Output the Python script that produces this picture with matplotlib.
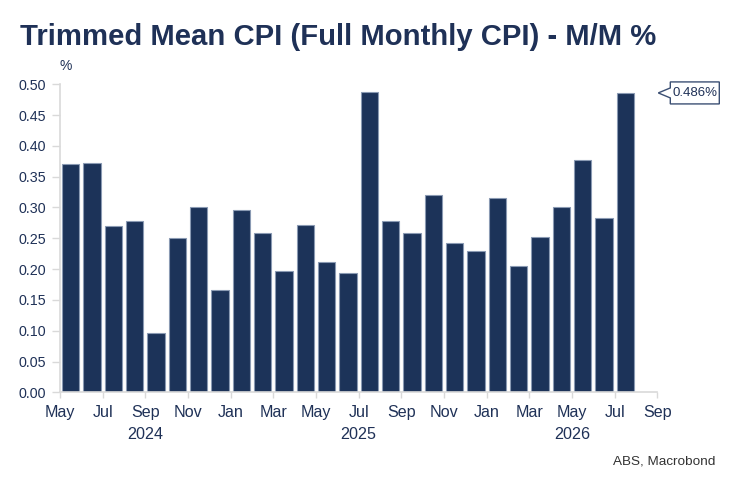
import numpy as np
import matplotlib
matplotlib.use("Agg")
import matplotlib.pyplot as plt
from matplotlib.patches import Polygon
from matplotlib.transforms import IdentityTransform, blended_transform_factory

NAVY = "#1c3359"
TEXT = "#1f3157"
GRID = "#d9d9d9"

# monthly trimmed mean CPI, m/m %, May 2024 .. Jul 2026
months = ["May 24", "Jun 24", "Jul 24", "Aug 24", "Sep 24", "Oct 24", "Nov 24",
          "Dec 24", "Jan 25", "Feb 25", "Mar 25", "Apr 25", "May 25", "Jun 25",
          "Jul 25", "Aug 25", "Sep 25", "Oct 25", "Nov 25", "Dec 25", "Jan 26",
          "Feb 26", "Mar 26", "Apr 26", "May 26", "Jun 26", "Jul 26"]
values = [0.370, 0.373, 0.270, 0.278, 0.096, 0.251, 0.301, 0.166, 0.296,
          0.258, 0.197, 0.271, 0.211, 0.194, 0.487, 0.278, 0.259, 0.321,
          0.242, 0.230, 0.315, 0.205, 0.252, 0.301, 0.377, 0.283, 0.486]
tick_labels = ["May", "Jul", "Sep", "Nov", "Jan", "Mar", "May", "Jul",
               "Sep", "Nov", "Jan", "Mar", "May", "Jul", "Sep"]
year_labels = ["2024", "2025", "2026"]
year_pos = [4, 14, 24]
last_label = "0.486%"

plt.rcParams["font.family"] = ["Liberation Sans", "DejaVu Sans"]

fig = plt.figure(figsize=(7.39, 4.92), dpi=100)
ax = fig.add_axes([60 / 739, 1 - 392.3 / 492, 597.3 / 739, 308 / 492])

x = np.arange(len(values)) + 0.5
ax.bar(x, values, width=0.8, color=NAVY, edgecolor="#8a9ab3", linewidth=0.8)

ax.set_xlim(0, 28)
ax.set_ylim(0, 0.5)
ax.set_yticks(np.arange(0, 0.501, 0.05))
ax.set_yticklabels([f"{v:.2f}" for v in np.arange(0, 0.501, 0.05)])
ax.set_xticks(np.arange(0, 29, 2))
ax.set_xticklabels(tick_labels)

for s in ["top", "right"]:
    ax.spines[s].set_visible(False)
for s in ["left", "bottom"]:
    ax.spines[s].set_color(GRID)
    ax.spines[s].set_linewidth(1.2)

ax.tick_params(axis="y", length=6, width=1, color=GRID, pad=4, labelsize=10.3,
               labelcolor=TEXT)
ax.tick_params(axis="x", length=4, width=1, color=GRID, pad=5, labelsize=11.6,
               labelcolor=TEXT)

trans = blended_transform_factory(ax.transData, ax.transAxes)
for pos, lab in zip(year_pos, year_labels):
    ax.text(pos, -0.112, lab, transform=trans, ha="center", va="top",
            fontsize=11.6, color=TEXT)

fig.text(20 / 739, 1 - 45 / 492, "Trimmed Mean CPI (Full Monthly CPI) - M/M %",
         fontsize=21.1, fontweight="bold", color=TEXT, ha="left", va="baseline")
fig.text(66 / 739, 1 - 66 / 492, "%", fontsize=10, color=TEXT,
         ha="center", va="center")
fig.text(715 / 739, 1 - 461 / 492, "ABS, Macrobond", fontsize=9.7, color="#333333",
         ha="right", va="center")

# callout for the latest value
tx, ty = ax.transData.transform((28, values[-1]))
tx += 1
verts = [(tx, ty), (tx + 12, ty + 5), (tx + 12, ty + 11), (tx + 61, ty + 11),
         (tx + 61, ty - 11), (tx + 12, ty - 11), (tx + 12, ty - 5)]
fig.patches.append(Polygon(verts, closed=True, facecolor="white",
                           edgecolor="#3b4f73", linewidth=1,
                           transform=IdentityTransform(), figure=fig))
fig.text((tx + 36.5) / 739, ty / 492, last_label, fontsize=9.5, color=TEXT,
         ha="center", va="center")

fig.savefig("out.png", dpi=100)
